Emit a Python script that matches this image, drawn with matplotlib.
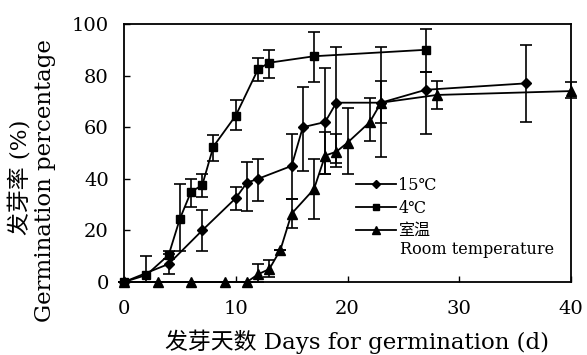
import numpy as np
import matplotlib.pyplot as plt
from matplotlib.lines import Line2D

plt.rcParams['font.family'] = ['DejaVu Serif', 'Noto Sans CJK SC']

# 15 C
d15 = [0, 4, 7, 10, 11, 12, 15, 16, 18, 19, 23, 27, 36]
g15 = [0, 7, 20, 32.5, 38.5, 40, 45, 60, 62, 69.5, 69.5, 74.5, 77]
hi15 = [0, 11, 28, 37, 46.5, 47.5, 57.5, 75.5, 83, 91, 91, 81.5, 92]
lo15 = [0, 3, 12, 28, 27.5, 31.5, 32, 43, 42, 46, 48.5, 57.5, 62]

# 4 C
d4 = [0, 2, 4, 5, 6, 7, 8, 10, 12, 13, 17, 27]
g4 = [0, 2.7, 10.5, 24.5, 35, 37.5, 52.5, 64.5, 82.5, 85, 87.5, 90]
hi4 = [0, 10, 12, 38, 40, 42, 57, 70.5, 87, 90, 97, 98]
lo4 = [0, 0, 9, 12, 29, 33, 47, 59, 78, 79, 77.5, 81.5]

# room temperature
drt = [0, 3, 6, 9, 11, 12, 13, 14, 15, 17, 18, 19, 20, 22, 23, 28, 40]
grt = [0, 0, 0, 0, 0, 3, 5, 12.5, 26.5, 36, 49, 50.5, 54, 62, 69.5, 72.5, 74]
hirt = [0, 0, 0, 0, 0, 7, 8.5, 12.5, 32, 47.5, 58, 57.5, 67.5, 71.5, 78, 78, 77.5]
lort = [0, 0, 0, 0, 0, 0, 2, 12.5, 21, 24.5, 42, 44.5, 42, 54.5, 61.5, 67, 71.5]

W, H = 587, 355
fig = plt.figure(figsize=(W / 100, H / 100), dpi=100)
ax = fig.add_axes([124 / W, 1 - 282 / H, 447 / W, 258 / H])

series = [
    (d15, g15, hi15, lo15, 'D', 5, '15℃'),
    (d4, g4, hi4, lo4, 's', 6, '4℃'),
    (drt, grt, hirt, lort, '^', 6.5, '室温'),
]
handles = []
for d, g, hi, lo, m, ms, lab in series:
    g = np.array(g)
    err = [g - np.array(lo), np.array(hi) - g]
    ax.errorbar(d, g, yerr=err, fmt='-', marker=m, ms=ms, color='black',
                lw=1.3, elinewidth=1.2, capsize=4, capthick=1.2, clip_on=False)
    handles.append(Line2D([], [], color='black', lw=1.3, marker=m, ms=ms - 1, label=lab))

ax.set_xlim(0, 40)
ax.set_ylim(0, 100)
ax.set_xticks([0, 10, 20, 30, 40])
ax.set_yticks([0, 20, 40, 60, 80, 100])
ax.tick_params(direction='in', labelsize=14, length=4, width=1)
ax.tick_params(axis='x', pad=13)
ax.tick_params(axis='y', pad=11)
for s in ax.spines.values():
    s.set_linewidth(1.3)

fig.text(357 / W, 1 - 342 / H, '发芽天数 Days for germination (d)', fontsize=16.5,
         ha='center', va='center')
fig.text(20 / W, 1 - 177 / H, '发芽率 (%)', fontsize=16.5, rotation=90,
         ha='center', va='center')
fig.text(45 / W, 1 - 181 / H, 'Germination percentage', fontsize=16.5, rotation=90,
         ha='center', va='center')

leg = ax.legend(handles=handles, loc='upper left',
                bbox_to_anchor=(356 / W, 1 - 177 / H), bbox_transform=fig.transFigure,
                frameon=False, fontsize=11.5, handlelength=2.5, handletextpad=0.15,
                labelspacing=0.35, borderaxespad=0, borderpad=0)
fig.text(400 / W, 1 - 250 / H, 'Room temperature', fontsize=11.5,
         ha='left', va='center')

fig.savefig('out.png', dpi=100)
